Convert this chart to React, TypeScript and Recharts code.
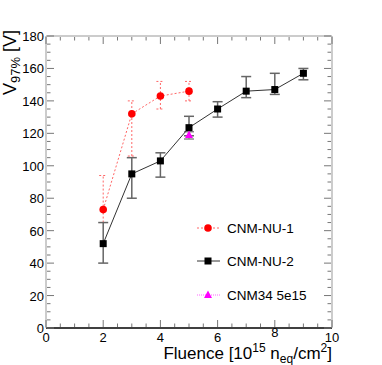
import React from 'react';
import { ScatterChart, Scatter, XAxis, YAxis, ErrorBar } from 'recharts';

// CNM-NU-1 (red, dotted)
const nu1Fluence = [2, 3, 4, 5];
const nu1V = [73, 132, 143, 146];
const nu1ErrLow = [8, 26, 8, 6];
const nu1ErrHigh = [21, 8, 9, 6];

// CNM-NU-2 (black)
const nu2Fluence = [2, 3, 4, 5, 6, 7, 8, 9];
const nu2V = [52, 95, 103, 123.5, 135, 146, 147, 157];
const nu2ErrLow = [12, 15, 10, 5, 5, 4, 3, 4];
const nu2ErrHigh = [13, 10, 5, 7, 4.5, 9, 10, 3];

// CNM34 5e15 (magenta)
const cnm34Fluence = [5];
const cnm34V = [119];
const cnm34ErrLow = [2.5];
const cnm34ErrHigh = [2];

const xTicks = [0, 0.5, 1, 1.5, 2, 2.5, 3, 3.5, 4, 4.5, 5, 5.5, 6, 6.5, 7, 7.5, 8, 8.5, 9, 9.5, 10];
const xMajor = [0, 2, 4, 6, 8, 10];
const yTicks = [0, 5, 10, 15, 20, 25, 30, 35, 40, 45, 50, 55, 60, 65, 70, 75, 80, 85, 90, 95, 100,
  105, 110, 115, 120, 125, 130, 135, 140, 145, 150, 155, 160, 165, 170, 175, 180];
const yMajor = [0, 20, 40, 60, 80, 100, 120, 140, 160, 180];

const build = (xs: number[], ys: number[], lo: number[], hi: number[]) =>
  xs.map((x, i) => ({ x, y: ys[i], err: [lo[i], hi[i]] }));

const nu1Data = build(nu1Fluence, nu1V, nu1ErrLow, nu1ErrHigh);
const nu2Data = build(nu2Fluence, nu2V, nu2ErrLow, nu2ErrHigh);
const cnm34Data = build(cnm34Fluence, cnm34V, cnm34ErrLow, cnm34ErrHigh);

const FONT = '"Liberation Sans", Arial, Helvetica, sans-serif';
const TICK_COLOR = '#777';

// ticks drawn inward from the axis line, ROOT style
const XTick = (props: any) => {
  const { x, y, payload, side } = props;
  const v = payload.value;
  const major = xMajor.includes(v);
  const len = major ? 7 : 3.5;
  const y0 = side === 'top' ? y + 1 : y - 1;
  const dir = side === 'top' ? 1 : -1;
  return (
    <g>
      <line x1={x} y1={y0} x2={x} y2={y0 + dir * len} stroke={TICK_COLOR} strokeWidth={1} />
      {side !== 'top' && major && (
        <text x={x} y={v === 8 ? y0 + 10 : y0 + 15} textAnchor="middle" fontSize={13} fontFamily={FONT} fill="#000">
          {v}
        </text>
      )}
    </g>
  );
};

const YTick = (props: any) => {
  const { x, y, payload, side } = props;
  const v = payload.value;
  const major = yMajor.includes(v);
  const len = major ? 7 : 3.5;
  const x0 = side === 'right' ? x - 1 : x + 1;
  const dir = side === 'right' ? -1 : 1;
  return (
    <g>
      <line x1={x0} y1={y} x2={x0 + dir * len} y2={y} stroke={TICK_COLOR} strokeWidth={1} />
      {side !== 'right' && major && (
        <text x={x0 - 3} y={y + 5} textAnchor="end" fontSize={13} fontFamily={FONT} fill="#000">
          {v}
        </text>
      )}
    </g>
  );
};

const Circle = (p: any) => <circle cx={p.cx} cy={p.cy} r={3.8} fill="#ff0000" />;
const Square = (p: any) => <rect x={p.cx - 3.5} y={p.cy - 3.5} width={7} height={7} fill="#000" />;
const Triangle = (p: any) => (
  <polygon points={`${p.cx},${p.cy - 4.5} ${p.cx - 4},${p.cy + 3} ${p.cx + 4},${p.cy + 3}`} fill="#ff00ff" />
);

const legendItems = [
  { name: 'CNM-NU-1', color: '#ff6666', dash: '2 2', marker: 'circle', y: 228 },
  { name: 'CNM-NU-2', color: '#333', dash: undefined, marker: 'square', y: 261 },
  { name: 'CNM34 5e15', color: '#ff66ff', dash: '1 1', marker: 'triangle', y: 295 },
];

export default function App() {
  return (
    <div style={{ position: 'absolute', left: 0, top: 0, width: 382, height: 365, background: '#fff' }}>
      <ScatterChart width={382} height={365} margin={{ top: 35, right: 49, bottom: 36, left: 45 }}>
        <XAxis
          xAxisId="b"
          type="number"
          dataKey="x"
          domain={[0, 10]}
          ticks={xTicks}
          interval={0}
          height={1}
          tickSize={0}
          tickMargin={0}
          tick={<XTick side="bottom" />}
          axisLine={{ stroke: '#000', strokeWidth: 1.5 }}
          allowDataOverflow
        />
        <XAxis
          xAxisId="t"
          orientation="top"
          type="number"
          dataKey="x"
          domain={[0, 10]}
          ticks={xTicks}
          interval={0}
          height={1}
          tickSize={0}
          tickMargin={0}
          tick={<XTick side="top" />}
          axisLine={{ stroke: '#999' }}
          allowDataOverflow
        />
        <YAxis
          yAxisId="l"
          type="number"
          dataKey="y"
          domain={[0, 180]}
          ticks={yTicks}
          interval={0}
          width={1}
          tickSize={0}
          tickMargin={0}
          tick={<YTick side="left" />}
          axisLine={{ stroke: '#999' }}
          allowDataOverflow
        />
        <YAxis
          yAxisId="r"
          orientation="right"
          type="number"
          dataKey="y"
          domain={[0, 180]}
          ticks={yTicks}
          interval={0}
          width={1}
          tickSize={0}
          tickMargin={0}
          tick={<YTick side="right" />}
          axisLine={{ stroke: '#999' }}
          allowDataOverflow
        />
        <Scatter
          xAxisId="b"
          yAxisId="l"
          data={nu1Data}
          line={{ stroke: '#ff6666', strokeDasharray: '2 2', strokeWidth: 1 }}
          shape={<Circle />}
          isAnimationActive={false}
        >
          <ErrorBar dataKey="err" direction="y" width={4} stroke="#ff6666" strokeWidth={1} strokeDasharray="2 2" />
        </Scatter>
        <Scatter
          xAxisId="b"
          yAxisId="l"
          data={nu2Data}
          line={{ stroke: '#333', strokeWidth: 1 }}
          shape={<Square />}
          isAnimationActive={false}
        >
          <ErrorBar dataKey="err" direction="y" width={5} stroke="#666" strokeWidth={1.5} />
        </Scatter>
        <Scatter
          xAxisId="t"
          yAxisId="r"
          data={cnm34Data}
          shape={<Triangle />}
          isAnimationActive={false}
        >
          <ErrorBar dataKey="err" direction="y" width={5} stroke="#888" strokeWidth={1.5} />
        </Scatter>
      </ScatterChart>
      <svg width={382} height={365} style={{ position: 'absolute', left: 0, top: 0, pointerEvents: 'none' }}>
        <text transform="translate(16,30) rotate(-90)" textAnchor="end" fontSize={18} fontFamily={FONT} fill="#000">
          V<tspan fontSize={13} dy={4}>97%</tspan>
          <tspan dy={-4}> [V]</tspan>
        </text>
        <text x={332} y={359} textAnchor="end" fontSize={17} fontFamily={FONT} fill="#000">
          Fluence [10<tspan fontSize={12} dy={-7}>15</tspan>
          <tspan dy={7}> n</tspan>
          <tspan fontSize={12} dy={4}>eq</tspan>
          <tspan dy={-4}>/cm</tspan>
          <tspan fontSize={12} dy={-7}>2</tspan>
          <tspan dy={7}>]</tspan>
        </text>
        {legendItems.map((it) => (
          <g key={it.name}>
            <line x1={197} x2={220} y1={it.y} y2={it.y} stroke={it.color} strokeDasharray={it.dash} />
            {it.marker === 'circle' && <Circle cx={208} cy={it.y} />}
            {it.marker === 'square' && <Square cx={208} cy={it.y} />}
            {it.marker === 'triangle' && <Triangle cx={208} cy={it.y} />}
            <text x={227} y={it.y + 5} fontSize={13.5} fontFamily={FONT} fill="#000">
              {it.name}
            </text>
          </g>
        ))}
      </svg>
    </div>
  );
}
